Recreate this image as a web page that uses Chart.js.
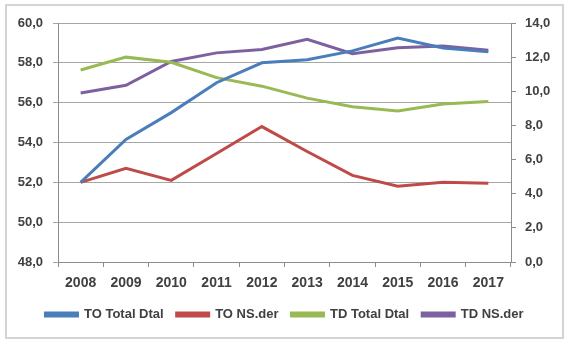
<!DOCTYPE html>
<html>
<head>
<meta charset="utf-8">
<script src="https://cdn.jsdelivr.net/npm/chart.js@4"></script>
<style>
  html, body { margin: 0; padding: 0; background: #fff; }
  #wrap { position: relative; width: 569px; height: 344px; }
  #frame { position: absolute; left: 5px; top: 4px; width: 555px; height: 331px; border: 2px solid #d4d4d4; }
  #c { position: absolute; left: 0; top: 0; }
</style>
</head>
<body>
<div id="wrap">
  <div id="frame"></div>
  <canvas id="c" width="569" height="344"></canvas>
</div>
<script>
"use strict";
// years on the x axis
const years = ["2008","2009","2010","2011","2012","2013","2014","2015","2016","2017"];

// left axis (TO)
const toTotal = [52.0, 54.15, 55.5, 57.0, 58.0, 58.15, 58.6, 59.25, 58.75, 58.55];
const toNs    = [52.0, 52.7, 52.1, 53.45, 54.8, 53.55, 52.35, 51.8, 52.0, 51.95];
// right axis (TD)
const tdTotal = [11.25, 12.0, 11.7, 10.8, 10.3, 9.6, 9.1, 8.85, 9.25, 9.4];
const tdNs    = [9.9, 10.35, 11.75, 12.25, 12.45, 13.05, 12.2, 12.55, 12.65, 12.4];

const names = ["TO Total Dtal", "TO NS.der", "TD Total Dtal", "TD NS.der"];
const colors = ["#4a7ebb", "#be4b48", "#98b954", "#7d60a0"];

const fmt = v => Number(v).toFixed(1).replace('.', ',');
const txt = '#404040';
const fnt = { family: 'Liberation Sans', size: 13, weight: 'bold' };

function ds(i, data, axis) {
	return {
		label: names[i],
		data: data,
		yAxisID: axis,
		borderColor: colors[i],
		backgroundColor: colors[i],
		borderWidth: 3,
		pointRadius: 0,
		tension: 0,
		fill: false
	};
}

new Chart(document.getElementById('c'), {
	type: 'line',
	data: {
		labels: years,
		datasets: [
			ds(0, toTotal, 'yL'),
			ds(1, toNs, 'yL'),
			ds(2, tdTotal, 'yR'),
			ds(3, tdNs, 'yR')
		]
	},
	options: {
		responsive: false,
		animation: false,
		layout: { padding: { top: 23, left: 0, right: 0, bottom: 13 } },
		plugins: {
			tooltip: { enabled: false },
			legend: {
				position: 'bottom',
				labels: {
					color: txt,
					font: fnt,
					boxWidth: 32,
					boxHeight: 3,
					padding: 13
				}
			}
		},
		scales: {
			x: {
				offset: true,
				grid: { drawOnChartArea: false, offset: true, tickLength: 5, color: '#8c8c8c' },
				border: { color: '#8c8c8c' },
				ticks: { color: txt, font: { family: 'Liberation Sans', size: 14, weight: 'bold' }, padding: 8, maxRotation: 0 },
				afterFit: s => { s.height = 33; }
			},
			yL: {
				position: 'left',
				min: 48, max: 60,
				ticks: { stepSize: 2, callback: fmt, color: txt, font: fnt, padding: 10 },
				grid: { color: '#a6a6a6', tickLength: 5 },
				border: { color: '#8c8c8c' },
				afterFit: s => { s.width = 58; }
			},
			yR: {
				position: 'right',
				min: 0, max: 14,
				ticks: { stepSize: 2, callback: fmt, color: txt, font: fnt, padding: 9 },
				grid: { drawOnChartArea: false, tickLength: 5, color: '#8c8c8c' },
				border: { color: '#8c8c8c' },
				afterFit: s => { s.width = 58; }
			}
		}
	}
});
</script>
</body>
</html>
